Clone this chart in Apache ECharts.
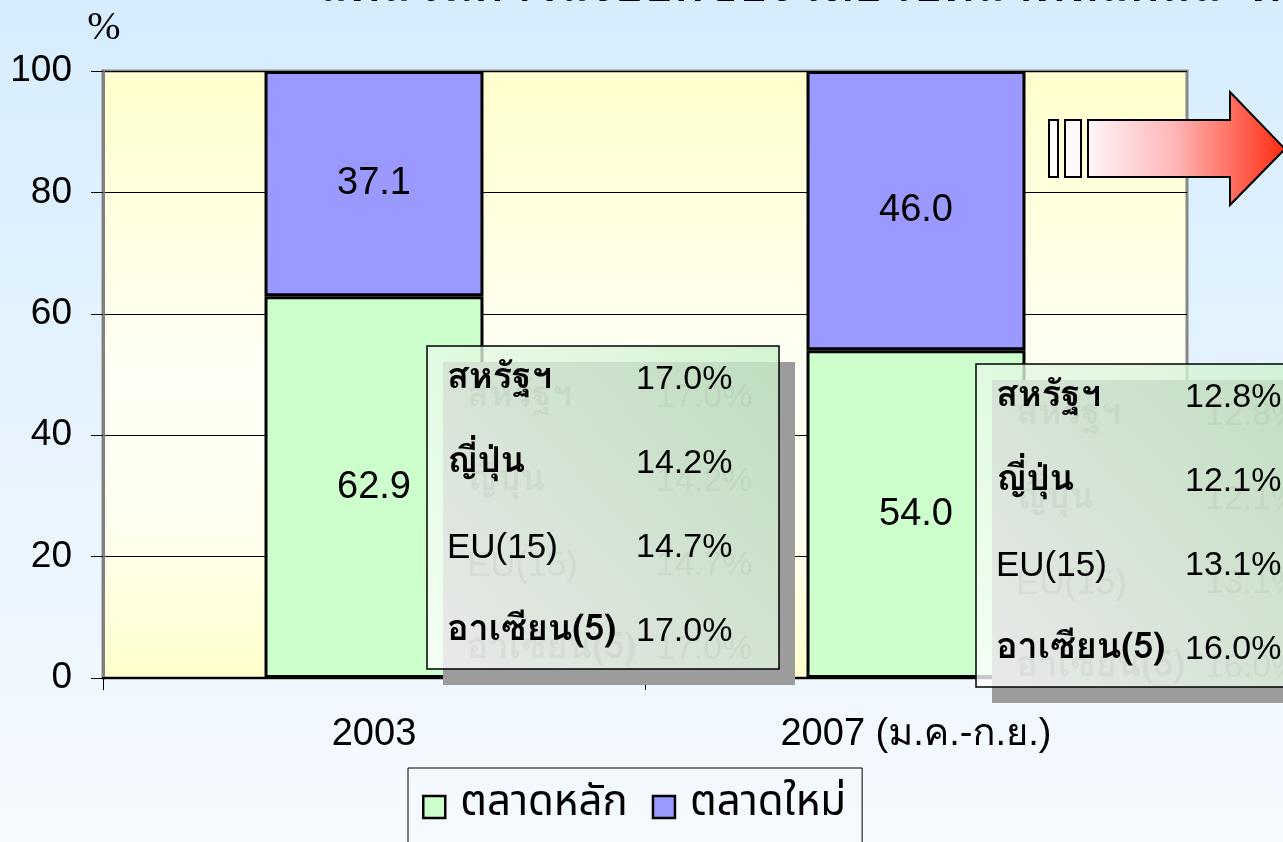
<!DOCTYPE html>
<html>
<head>
<meta charset="utf-8">
<script src="https://cdn.jsdelivr.net/npm/echarts@6/dist/echarts.min.js"></script>
<style>
  html, body { margin: 0; padding: 0; }
  #chart { width: 1283px; height: 842px; }
</style>
</head>
<body>
<div id="chart"></div>
<script>
const categories = ['2003', '2007 (ม.ค.-ก.ย.)'];
const mainMarket = [62.9, 54.0];
const newMarket = [37.1, 46.0];
const seriesNames = ['ตลาดหลัก', 'ตลาดใหม่'];
const shareNames = ['สหรัฐฯ', 'ญี่ปุ่น', 'EU(15)', 'อาเซียน(5)'];
const share2003 = [17.0, 14.2, 14.7, 17.0];
const share2007 = [12.8, 12.1, 13.1, 16.0];

const thaiFont = '"Noto Sans Thai", "Noto Sans", "Liberation Sans", sans-serif';
const loopedThai = 'Loma, Garuda, "Noto Sans Thai Looped", "Noto Serif Thai", Tahoma, "Noto Sans Thai", sans-serif';
const numFont = '"Liberation Sans", Arial, sans-serif';

// little boxes with the main-market shares, shadow + semi transparent fill
const makeTable = (x, y, values) => {
    const els = [];
    els.push({
        type: 'rect', z: 100,
        shape: { x: x + 16, y: y + 16, width: 352, height: 323 },
        style: { fill: '#9c9c9c' }
    });
    els.push({
        type: 'rect', z: 101,
        shape: { x: x, y: y, width: 352, height: 323 },
        style: {
            fill: new echarts.graphic.LinearGradient(0, 1, 1, 0, [
                { offset: 0, color: 'rgba(255,255,255,0.78)' },
                { offset: 1, color: 'rgba(200,240,200,0.78)' }
            ]),
            stroke: '#000', lineWidth: 1.5
        }
    });
    shareNames.forEach((name, i) => {
        const rowY = y + 34 + 84 * i;
        const isThai = /[\u0E00-\u0E7F]/.test(name);
        const nameFont = isThai ? 'bold 36px ' + loopedThai : '35px ' + numFont;
        const valText = values[i].toFixed(1) + '%';
        // faint ghost copy, like the reference's shadowed text
        [[20, 18, 'rgba(0,0,0,0.045)'], [0, 0, '#000']].forEach(([dx, dy, col]) => {
            els.push({
                type: 'text', z: 102, x: x + 20 + dx, y: rowY + dy,
                style: { text: name, fill: col, font: nameFont, verticalAlign: 'middle', align: 'left' }
            });
            els.push({
                type: 'text', z: 102, x: x + 209 + dx, y: rowY + dy,
                style: { text: valText, fill: col, font: '34px ' + numFont, verticalAlign: 'middle', align: 'left' }
            });
        });
    });
    return els;
};

const arrow = [
    {
        type: 'rect', z: 100,
        shape: { x: 1049, y: 120, width: 9, height: 57 },
        style: { fill: '#fff', stroke: '#000', lineWidth: 2 }
    },
    {
        type: 'rect', z: 100,
        shape: { x: 1065, y: 120, width: 16, height: 57 },
        style: { fill: '#fff8fb', stroke: '#000', lineWidth: 2 }
    },
    {
        type: 'polygon', z: 100,
        shape: {
            points: [[1088, 120], [1230, 120], [1230, 92], [1285, 149],
                     [1230, 205], [1230, 177], [1088, 177]]
        },
        style: {
            fill: new echarts.graphic.LinearGradient(0, 0, 1, 0, [
                { offset: 0, color: '#fff6fa' },
                { offset: 0.45, color: '#ffb4b4' },
                { offset: 1, color: '#ff2a10' }
            ]),
            stroke: '#000', lineWidth: 2
        }
    }
];

const chart = echarts.init(document.getElementById('chart'));

const option = {
    backgroundColor: new echarts.graphic.LinearGradient(0, 0, 0, 1, [
        { offset: 0, color: '#d6edfe' },
        { offset: 1, color: '#f6faff' }
    ]),
    animation: false,
    grid: {
        left: 103, right: 96, top: 71, bottom: 164,
        show: true,
        backgroundColor: new echarts.graphic.LinearGradient(0, 0, 0, 1, [
            { offset: 0, color: '#ffffcc' },
            { offset: 0.5, color: '#fffff6' },
            { offset: 0.75, color: '#fffff0' },
            { offset: 1, color: '#ffffcc' }
        ]),
        borderColor: '#888',
        borderWidth: 3
    },
    legend: {
        data: seriesNames,
        left: 408,
        top: 768,
        padding: [18, 16, 40, 14],
        itemGap: 24,
        itemWidth: 22,
        itemHeight: 22,
        borderColor: '#000',
        borderWidth: 1,
        icon: 'rect',
        itemStyle: { borderColor: '#000', borderWidth: 2.5 },
        textStyle: { fontSize: 42, color: '#000', fontFamily: thaiFont, padding: [0, 0, 0, 10] }
    },
    xAxis: {
        type: 'category',
        data: categories,
        axisLine: { lineStyle: { color: '#000', width: 2 } },
        axisTick: { show: true, length: 12, lineStyle: { color: '#000' } },
        axisLabel: { fontSize: 38, color: '#000', margin: 38, fontFamily: '"Liberation Sans", ' + loopedThai }
    },
    yAxis: {
        type: 'value',
        min: 0, max: 100, interval: 20,
        axisLine: { show: true, lineStyle: { color: '#808080', width: 3 } },
        axisTick: { show: true, length: 12, lineStyle: { color: '#000' } },
        axisLabel: { fontSize: 37, color: '#000', margin: 31, fontFamily: numFont },
        splitLine: { lineStyle: { color: '#000', width: 1 } }
    },
    series: [
        {
            name: seriesNames[0], type: 'bar', stack: 'total',
            data: mainMarket, barWidth: '40.4%',
            itemStyle: { color: '#ccffcc', borderColor: '#000', borderWidth: 3 },
            label: {
                show: true, position: 'inside', fontSize: 38, color: '#000', fontFamily: numFont,
                formatter: p => p.value.toFixed(1)
            }
        },
        {
            name: seriesNames[1], type: 'bar', stack: 'total',
            data: newMarket, barWidth: '40.4%',
            itemStyle: { color: '#9999ff', borderColor: '#000', borderWidth: 3 },
            label: {
                show: true, position: 'inside', fontSize: 38, color: '#000', fontFamily: numFont,
                formatter: p => p.value.toFixed(1)
            }
        }
    ],
    graphic: [
        {
            type: 'text', z: 100, x: 318, y: 15,
            style: {
                text: 'สัดส่วนการส่งออกของไทยไปตลาดหลักและตลาดใหม่',
                font: 'bold 50px ' + loopedThai, fill: '#000',
                verticalAlign: 'bottom'
            }
        },
        {
            type: 'text', z: 100, x: 104, y: 28,
            style: {
                text: '%', font: '40px "Liberation Serif", serif', fill: '#000',
                align: 'center', verticalAlign: 'middle'
            }
        },
        ...arrow,
        ...makeTable(427, 346, share2003),
        ...makeTable(976, 364, share2007)
    ]
};

chart.setOption(option);
</script>
</body>
</html>
